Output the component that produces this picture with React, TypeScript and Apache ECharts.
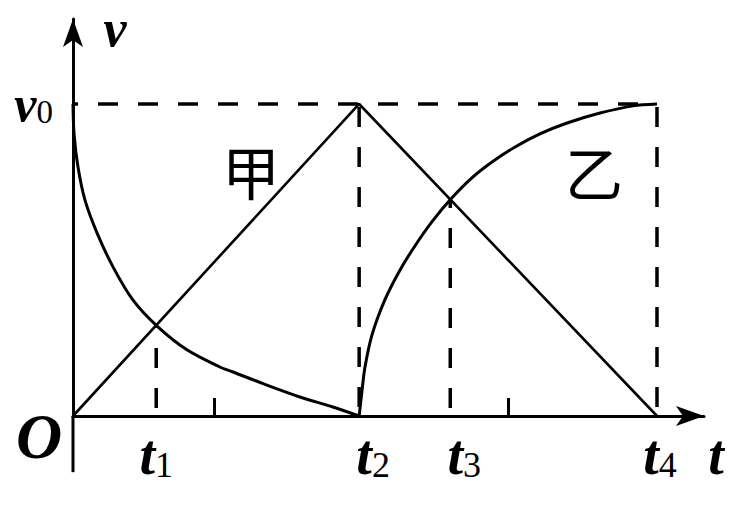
import React, { useEffect, useRef } from 'react';
import * as echarts from 'echarts';

// ---- data (t in arbitrary time units, v in units of v0) ----
const T1 = 2.85;
const T2 = 9.8;
const T3 = 12.92;
const T4 = 20;
const V0 = 1;
const tLabelValues = [T1, T2, T3, T4];
const tLabelSubs = ['1', '2', '3', '4'];
const minorTickValues = [4.85, 14.9];
const vAxisBelow = -0.18; // the v axis continues a little below the t axis

// 甲: straight lines
const jiaT = [0, T2, T4];
const jiaV = [0, V0, 0];

// 乙: decaying part (0 .. t2)
const yiDecayT = [0, 0.034, 0.171, 0.411, 0.822, 1.37, 2.05, 2.88, 3.9, 5.03, 5.48, 6.64, 7.77, 8.9, 9.8];
const yiDecayV = [1.0, 0.907, 0.798, 0.692, 0.587, 0.478, 0.372, 0.288, 0.212, 0.157, 0.141, 0.099, 0.061, 0.029, 0];

// 乙: rising part (t2 .. t4)
const yiRiseT = [9.8, 9.9, 10.0, 10.24, 10.68, 11.2, 11.71, 12.29, 12.91, 13.66, 14.35, 15.14, 15.99, 16.92, 18.05, 19.18, 20];
const yiRiseV = [0, 0.083, 0.157, 0.26, 0.372, 0.468, 0.545, 0.622, 0.692, 0.763, 0.814, 0.862, 0.904, 0.939, 0.971, 0.994, 1.0];

const zip = (a: number[], b: number[]) => a.map((x, i) => [x, b[i]]);

const SERIF = "'Liberation Serif', 'Times New Roman', serif";
const CJK = "'Noto Sans CJK SC', sans-serif";

export default function App() {
  const ref = useRef<HTMLDivElement>(null);
  useEffect(() => {
    if (!ref.current) return;
    const chart = echarts.init(ref.current, undefined, { renderer: 'svg' });
    const vAtT1 = (T1 / T2) * V0;
    const vAtT3 = ((T4 - T3) / (T4 - T2)) * V0;
    const dashStyle = (offset: number) => ({
      color: '#000',
      width: 3.5,
      type: [20, 20] as number[],
      dashOffset: offset,
    });
    const shiftTok = ['', '{pa|}', '{pa|}', '{pb|}'];
    const option: any = {
      animation: false,
      backgroundColor: '#fff',
      grid: { left: 73, right: 38, top: 19, bottom: 90, containLabel: false, outerBoundsMode: 'none' },
      xAxis: {
        type: 'value',
        min: 0,
        max: 21.61,
        axisLine: {
          onZero: false,
          symbol: ['none', 'arrow'],
          symbolSize: [15, 28],
          lineStyle: { color: '#000', width: 3 },
        },
        axisTick: {
          show: true,
          customValues: minorTickValues,
          inside: true,
          length: 18,
          lineStyle: { color: '#000', width: 3 },
        },
        axisLabel: {
          show: true,
          customValues: tLabelValues,
          margin: 11,
          color: '#000',
          formatter: (val: number) => {
            const i = tLabelValues.findIndex((x) => Math.abs(x - val) < 1e-6);
            if (i < 0) return '';
            return `${shiftTok[i]}{t|t}{s|${tLabelSubs[i]}}`;
          },
          rich: {
            t: {
              fontFamily: SERIF,
              fontStyle: 'italic',
              fontWeight: 'bold',
              fontSize: 56,
              lineHeight: 56,
              verticalAlign: 'top',
              color: '#000',
            },
            s: {
              fontFamily: SERIF,
              fontSize: 36,
              lineHeight: 36,
              padding: [30, 0, 0, 0],
              verticalAlign: 'bottom',
              color: '#000',
            },
            pa: { width: 28 },
            pb: { width: 6 },
          },
        },
        splitLine: { show: false },
      },
      yAxis: {
        type: 'value',
        min: 0,
        max: 1.2724,
        axisLine: {
          show: true,
          onZero: false,
          symbol: ['none', 'arrow'],
          symbolSize: [15, 28],
          lineStyle: { color: '#000', width: 3 },
        },
        axisTick: { show: false },
        axisLabel: {
          show: true,
          customValues: [V0],
          margin: 20,
          color: '#000',
          formatter: () => '{v|v}{s|0}',
          rich: {
            v: {
              fontFamily: SERIF,
              fontStyle: 'italic',
              fontWeight: 'bold',
              fontSize: 50,
              lineHeight: 50,
              verticalAlign: 'top',
              color: '#000',
            },
            s: {
              fontFamily: SERIF,
              fontSize: 33,
              lineHeight: 33,
              padding: [29, 0, 0, 0],
              verticalAlign: 'bottom',
              color: '#000',
            },
          },
        },
        splitLine: { show: false },
      },
      series: [
        {
          // continuation of the v axis below the t axis
          type: 'line',
          data: [[0, 0], [0, vAxisBelow]],
          symbol: 'none',
          clip: false,
          lineStyle: { color: '#000', width: 3 },
          z: 1,
        },
        {
          type: 'line',
          data: [[0, V0], [T4, V0]],
          symbol: 'none',
          lineStyle: dashStyle(15),
          z: 1,
        },
        {
          type: 'line',
          data: [[T2, V0], [T2, 0]],
          symbol: 'none',
          lineStyle: dashStyle(37),
          z: 1,
        },
        {
          type: 'line',
          data: [[T4, V0], [T4, 0]],
          symbol: 'none',
          lineStyle: dashStyle(37),
          z: 1,
        },
        {
          type: 'line',
          data: [[T1, 0], [T1, vAtT1]],
          symbol: 'none',
          lineStyle: dashStyle(32),
          z: 1,
        },
        {
          type: 'line',
          data: [[T3, 0], [T3, vAtT3]],
          symbol: 'none',
          lineStyle: dashStyle(32),
          z: 1,
        },
        {
          name: '甲',
          type: 'line',
          data: zip(jiaT, jiaV),
          symbol: 'none',
          lineStyle: { color: '#000', width: 2.6 },
          z: 3,
        },
        {
          name: '乙',
          type: 'line',
          data: zip(yiDecayT, yiDecayV),
          symbol: 'none',
          smooth: 0.3,
          lineStyle: { color: '#000', width: 3 },
          z: 3,
        },
        {
          name: '乙',
          type: 'line',
          data: zip(yiRiseT, yiRiseV),
          symbol: 'none',
          smooth: 0.3,
          lineStyle: { color: '#000', width: 3 },
          z: 3,
        },
      ],
      graphic: [
        {
          type: 'text',
          x: 39,
          y: 436,
          style: {
            text: 'O',
            font: `italic bold 64px ${SERIF}`,
            fill: '#000',
            textAlign: 'center',
            textVerticalAlign: 'middle',
          },
        },
        {
          type: 'text',
          x: 115,
          y: 28,
          style: {
            text: 'v',
            font: `italic bold 52px ${SERIF}`,
            fill: '#000',
            textAlign: 'center',
            textVerticalAlign: 'middle',
          },
        },
        {
          type: 'text',
          x: 716,
          y: 455,
          style: {
            text: 't',
            font: `italic bold 56px ${SERIF}`,
            fill: '#000',
            textAlign: 'center',
            textVerticalAlign: 'middle',
          },
        },
        {
          type: 'text',
          x: 251,
          y: 170,
          style: {
            text: '甲',
            font: `58px ${CJK}`,
            fill: '#000',
            textAlign: 'center',
            textVerticalAlign: 'middle',
          },
        },
        {
          type: 'text',
          x: 594,
          y: 171,
          style: {
            text: '乙',
            font: `58px ${CJK}`,
            fill: '#000',
            textAlign: 'center',
            textVerticalAlign: 'middle',
          },
        },
      ],
    };
    chart.setOption(option);
    return () => chart.dispose();
  }, []);
  return (
    <div
      ref={ref}
      style={{ position: 'fixed', left: 0, top: 0, width: 742, height: 506, background: '#fff' }}
    />
  );
}
